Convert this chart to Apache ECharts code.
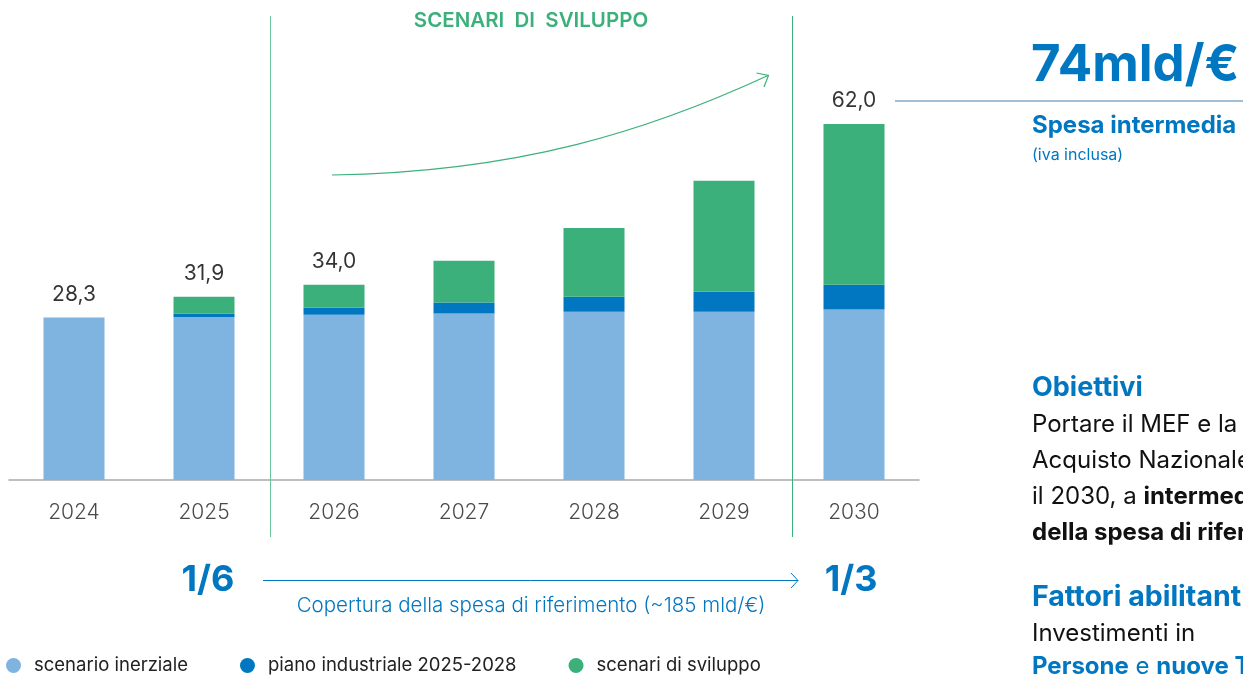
<!DOCTYPE html>
<html>
<head>
<meta charset="utf-8">
<script src="https://cdn.jsdelivr.net/npm/echarts@6/dist/echarts.min.js"></script>
<style>
  html, body { margin: 0; padding: 0; background: #fff; }
  #chart { width: 1243px; height: 677px; }
</style>
</head>
<body>
<div id="chart"></div>
<script>
// dati
const years = ['2024', '2025', '2026', '2027', '2028', '2029', '2030']
const inerziale = [28.3, 28.4, 28.8, 29.0, 29.3, 29.3, 29.7]
const pianoIndustriale = [0, 0.6, 1.2, 1.9, 2.6, 3.5, 4.3]
const sviluppo = [0, 2.9, 4.0, 7.3, 12.0, 19.3, 28.0]
// totali mostrati solo su alcuni anni
const showTotal = [true, true, true, false, false, false, true]

const colLight = '#7fb3e0'
const colBlue = '#0077c0'
const colGreen = '#3cb07b'
const font = 'Inter, "Open Sans", sans-serif'

const totals = years.map((y, i) => +(inerziale[i] + pianoIndustriale[i] + sviluppo[i]).toFixed(1))

const chart = echarts.init(document.getElementById('chart'))

function txt (text, x, y, size, color, opts = {}) {
  return {
    type: 'text',
    x,
    y,
    style: Object.assign({
      text,
      fill: color,
      font: `${opts.weight || 400} ${size}px ${font}`,
      textAlign: opts.align || 'left',
      textVerticalAlign: 'middle',
      rich: opts.rich
    }, opts.style || {})
  }
}

const bodyRich = {
  b: { fontWeight: 700, fontSize: 24, fontFamily: font, fill: '#111' },
  n: { fontWeight: 400, fontSize: 24, fontFamily: font, fill: '#111' }
}
const blueRich = {
  b: { fontWeight: 700, fontSize: 24, fontFamily: font, fill: colBlue },
  n: { fontWeight: 400, fontSize: 24, fontFamily: font, fill: colBlue }
}

chart.setOption({
  animation: false,
  textStyle: { fontFamily: font },
  grid: { left: 9, width: 910, top: 124, bottom: 197 },
  legend: {
    left: 1,
    bottom: -3,
    icon: 'circle',
    itemWidth: 15,
    itemHeight: 15,
    itemGap: 52,
    selectedMode: false,
    textStyle: { fontSize: 18.5, color: '#222', fontFamily: font, padding: [0, 0, 0, 8] },
    data: ['scenario inerziale', 'piano industriale 2025-2028', 'scenari di sviluppo']
  },
  xAxis: {
    type: 'category',
    data: years,
    axisTick: { show: false },
    splitLine: { show: false },
    axisLine: { lineStyle: { color: '#aaaaaa', width: 1.5 } },
    axisLabel: { color: '#4a4a4a', fontSize: 21, fontWeight: 300, margin: 22 }
  },
  yAxis: {
    type: 'value',
    min: 0,
    max: 62,
    show: false,
    splitLine: { show: false }
  },
  series: [
    {
      name: 'scenario inerziale',
      type: 'bar',
      stack: 'tot',
      barWidth: 61,
      itemStyle: { color: colLight },
      data: inerziale
    },
    {
      name: 'piano industriale 2025-2028',
      type: 'bar',
      stack: 'tot',
      itemStyle: { color: colBlue },
      data: pianoIndustriale
    },
    {
      name: 'scenari di sviluppo',
      type: 'bar',
      stack: 'tot',
      itemStyle: { color: colGreen },
      data: sviluppo
    },
    {
      // etichette dei totali
      type: 'scatter',
      symbol: 'circle',
      symbolSize: 1,
      itemStyle: { color: 'rgba(0,0,0,0)' },
      silent: true,
      data: totals.map((v, i) => ({
        value: v,
        label: {
          show: showTotal[i],
          position: 'top',
          distance: 12,
          fontSize: 21,
          color: '#000',
          formatter: p => p.value.toFixed(1).replace('.', ',')
        }
      }))
    }
  ],
  graphic: [
    txt('SCENARI  DI  SVILUPPO', 531, 21, 20.5, colGreen, { weight: 600, align: 'center' }),
    // freccia curva
    { type: 'bezierCurve', shape: { x1: 332, y1: 175, cpx1: 520, cpy1: 172, cpx2: 650, cpy2: 130, x2: 768, y2: 75.5 }, style: { stroke: colGreen, lineWidth: 1.2, fill: null } },
    { type: 'polyline', shape: { points: [[756.5, 73], [768.5, 75.5], [764, 87]] }, style: { stroke: colGreen, lineWidth: 1.2, fill: null } },
    // linee verticali verdi
    { type: 'rect', z: 100, shape: { x: 792, y: 16, width: 1, height: 521 }, style: { fill: colGreen } },
    { type: 'rect', z: 100, shape: { x: 270, y: 16, width: 1, height: 521 }, style: { fill: '#6cc79a' } },
    // linea verso 74mld
    { type: 'line', shape: { x1: 895, y1: 101, x2: 1243, y2: 101 }, style: { stroke: '#3f7fb3', lineWidth: 1 } },
    txt('74mld/€', 1031, 66, 51, colBlue, { weight: 700 }),
    txt('Spesa intermedia', 1032, 126, 24, colBlue, { weight: 700 }),
    txt('(iva inclusa)', 1032, 155, 16, colBlue),
    txt('Obiettivi', 1032, 388, 27, colBlue, { weight: 700 }),
    txt('{n|Portare il MEF e la Centrale di}', 1032, 425, 24, '#111', { rich: bodyRich }),
    txt('{n|Acquisto Nazionale, entro}', 1032, 461, 24, '#111', { rich: bodyRich }),
    txt('{n|il 2030, a }{b|intermediare 1/3}', 1032, 497, 24, '#111', { rich: bodyRich }),
    txt('{b|della spesa di riferimento}', 1032, 533, 24, '#111', { rich: bodyRich }),
    txt('Fattori abilitanti', 1032, 597, 28.5, colBlue, { weight: 700 }),
    txt('{n|Investimenti in}', 1032, 634, 24, '#111', { rich: bodyRich }),
    txt('{b|Persone}{n| e }{b|nuove Tecnologie}', 1032, 667, 24, colBlue, { rich: blueRich }),
    // copertura
    txt('1/6', 208, 580, 36, colBlue, { weight: 700, align: 'center' }),
    txt('1/3', 851, 580, 36, colBlue, { weight: 700, align: 'center' }),
    { type: 'line', shape: { x1: 263, y1: 580.5, x2: 798, y2: 580.5 }, style: { stroke: colBlue, lineWidth: 1 } },
    { type: 'polyline', shape: { points: [[791, 573], [798, 580.5], [791, 588]] }, style: { stroke: colBlue, lineWidth: 1, fill: null } },
    txt('Copertura della spesa di riferimento (~185 mld/€)', 531, 606, 20.5, colBlue, { align: 'center', weight: 300 })
  ]
})
</script>
</body>
</html>
